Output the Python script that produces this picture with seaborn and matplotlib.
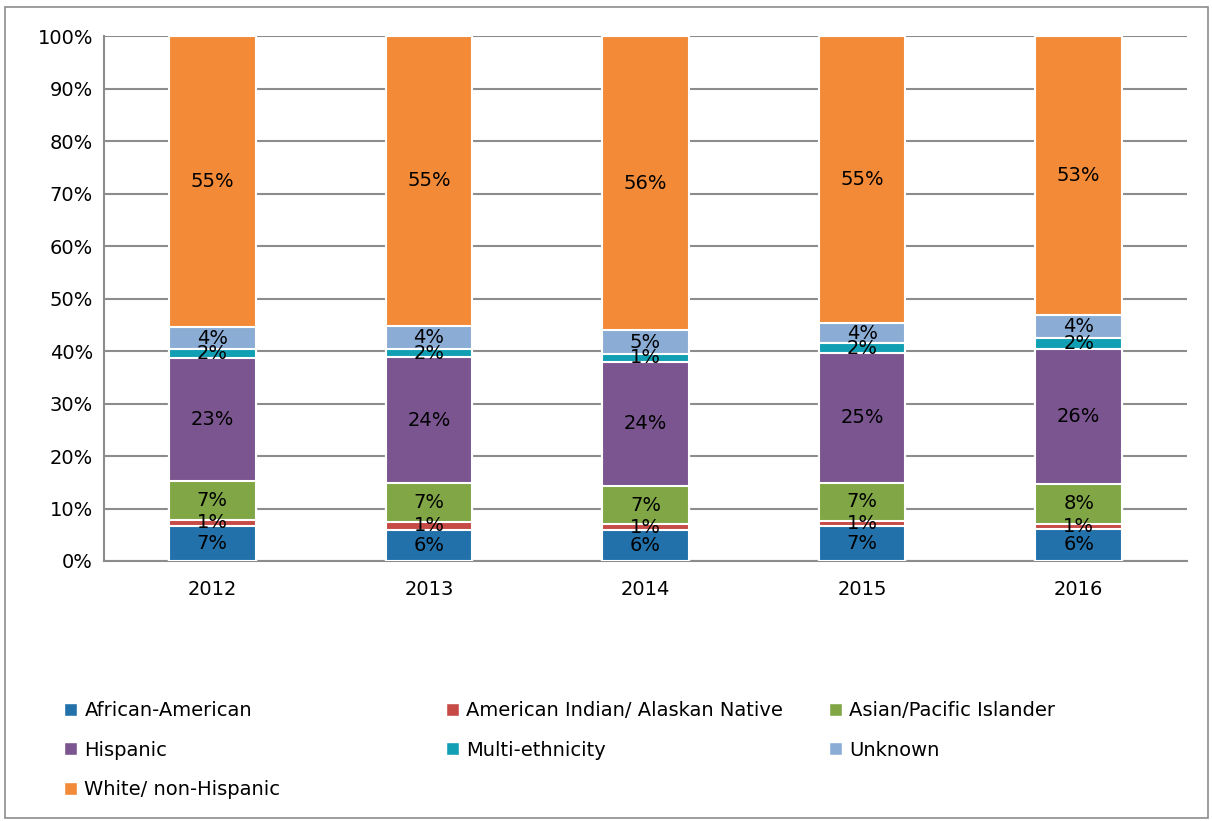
import numpy as np
import pandas as pd
import matplotlib
matplotlib.use('Agg')
import matplotlib.pyplot as plt
import seaborn as sns
from matplotlib.patches import Rectangle, Patch

years = ['2012', '2013', '2014', '2015', '2016']
groups = ['African-American', 'American Indian/ Alaskan Native', 'Asian/Pacific Islander',
          'Hispanic', 'Multi-ethnicity', 'Unknown', 'White/ non-Hispanic']

african_american = [6.6, 6.0, 5.9, 6.6, 6.1]
american_indian = [1.3, 1.4, 1.1, 1.1, 1.0]
asian_pacific = [7.4, 7.4, 7.3, 7.2, 7.6]
hispanic = [23.4, 24.0, 23.7, 24.7, 25.7]
multi_ethnicity = [1.6, 1.6, 1.4, 1.9, 2.0]
unknown = [4.3, 4.4, 4.6, 3.8, 4.4]
white = [55.4, 55.2, 56.0, 54.7, 53.2]

colors = ['#2271ab', '#c64b47', '#80a646', '#7b5590', '#119fb4', '#8badd5', '#f28a38']

series = [african_american, american_indian, asian_pacific, hispanic,
          multi_ethnicity, unknown, white]
df = pd.DataFrame(dict(zip(groups, series)), index=years)
cum = df.cumsum(axis=1)

sns.set_style('white')
plt.rcParams['font.family'] = ['DejaVu Sans']

fig = plt.figure(figsize=(12.12, 8.21), dpi=100)
ax = fig.add_axes([104 / 1212, 1 - 561 / 821, (1187 - 104) / 1212, (561 - 36) / 821])

# stack by overlaying cumulative bars, tallest first
for g, c in reversed(list(zip(groups, colors))):
    sns.barplot(x=years, y=cum[g].values, color=c, width=0.4,
                edgecolor='white', linewidth=1.5, saturation=1, ax=ax, zorder=3)

for i, y in enumerate(years):
    bottom = 0
    for g in groups:
        v = df.loc[y, g]
        ax.text(i, bottom + v / 2, f"{int(v + 0.5)}%", ha='center', va='center',
                fontsize=14, color='black', zorder=5)
        bottom += v

ax.set_ylim(0, 100)
ax.set_xlim(-0.5, 4.5)
ax.set_yticks(range(0, 101, 10))
ax.set_yticklabels([f"{t}%" for t in range(0, 101, 10)])
ax.yaxis.grid(True, color='#8c8c8c', linewidth=1.5, zorder=0)
ax.set_axisbelow(True)
for s in ['top', 'right']:
    ax.spines[s].set_visible(False)
for s in ['left', 'bottom']:
    ax.spines[s].set_color('#8c8c8c')
    ax.spines[s].set_linewidth(1.5)
ax.tick_params(axis='both', length=0, labelsize=14, labelcolor='black', pad=8)
ax.tick_params(axis='x', pad=14)
ax.set_xlabel('')
ax.set_ylabel('')

# legend laid out in three equal-width columns like the original
col_x = [64 / 1212, 446 / 1212, 829 / 1212]
columns = [[0, 3, 6], [1, 4], [2, 5]]
for cx, idxs in zip(col_x, columns):
    handles = [Patch(facecolor=colors[k], edgecolor='white', label=groups[k]) for k in idxs]
    fig.legend(handles=handles, loc='upper left', bbox_to_anchor=(cx, 1 - 701 / 821),
               frameon=False, fontsize=14, labelcolor='black', handlelength=0.65,
               handleheight=0.65, handletextpad=0.4, labelspacing=1.06,
               borderaxespad=0, borderpad=0)

fig.patches.append(Rectangle((5 / 1212, 3 / 821), 1203 / 1212, 811 / 821,
                             transform=fig.transFigure, fill=False,
                             edgecolor='#8c8c8c', linewidth=1.2))

fig.savefig('out.png', dpi=100)
